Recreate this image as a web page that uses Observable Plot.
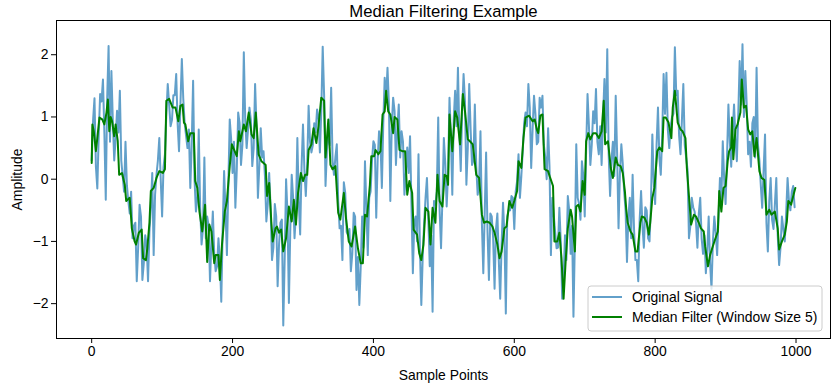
<!DOCTYPE html>
<html><head><meta charset="utf-8">
<script src="https://cdn.jsdelivr.net/npm/d3@7"></script>
<script src="https://cdn.jsdelivr.net/npm/@observablehq/plot@0.6"></script>
<style>
body{margin:0;background:#fff;}
#wrap{width:840px;height:391px;}
</style></head><body><div id="wrap"></div>
<script>
// Original signal, read every 2 samples (0,2,...,998)
const signalStep = 2;
const signalValues = [
 0.30,0.95,1.30,0.20,-0.15,0.70,1.37,1.25,1.60,0.75,-0.33,1.30,2.14,0.60,1.74,0.95,0.30,0.65,1.10,0.75,1.42,0.30,0.05,-0.20,0.60,-0.10,-0.35,-0.55,-0.20,-0.95,-0.75,-0.70,-1.64,-1.10,-0.41,-0.60,-1.62,-1.35,-0.90,-1.05,-1.64,-0.85,-0.46,0.10,-1.22,-0.25,0.07,0.30,0.66,0.00,
 -0.60,0.20,0.40,1.05,1.53,1.20,0.85,0.95,1.35,1.35,1.69,0.90,0.45,1.20,1.93,1.30,0.90,0.70,0.50,0.80,-0.14,0.55,1.58,0.00,-0.52,-0.30,0.80,-0.45,-1.05,-0.80,0.35,-0.95,-0.60,-0.75,-1.64,-1.00,-0.52,-1.20,-1.48,-1.40,-0.95,-1.30,-1.97,-0.80,0.13,-0.50,-1.22,-0.10,0.96,0.65,
 0.10,0.60,-0.46,0.15,1.07,0.90,0.23,0.55,2.04,0.95,0.50,0.80,1.15,0.95,0.21,0.50,1.53,0.85,-0.30,0.20,0.82,0.35,0.45,0.05,-0.68,-0.40,0.10,-0.45,-1.30,-1.10,-0.40,-0.60,-1.72,-1.05,-0.70,-0.65,-2.35,-1.30,0.00,-0.55,-1.99,-0.80,0.07,-0.30,-0.95,-0.55,0.66,-0.35,-0.89,0.20,
 0.88,0.15,-0.27,0.25,1.18,0.60,0.43,0.55,0.90,0.75,1.12,1.00,0.43,1.10,2.13,1.35,-0.11,0.45,0.77,0.55,1.47,0.30,0.07,0.35,0.56,-0.35,-0.79,-0.75,-1.30,-0.05,-0.22,-0.85,-0.90,-0.80,-1.48,-1.20,-0.54,-0.60,-1.78,-1.25,-2.02,-1.40,-0.60,-1.10,0.29,-0.45,-1.22,-0.30,-0.20,0.30,
 0.61,0.55,-0.62,0.30,0.77,0.60,-0.14,0.90,1.63,1.30,1.79,1.20,-0.35,0.85,1.31,1.10,0.23,0.80,1.20,0.35,0.77,0.60,-0.25,0.05,0.51,0.10,0.69,-0.40,-1.51,-0.70,-0.60,-1.00,0.40,-1.10,-2.02,-1.25,-0.70,-0.30,0.02,-0.65,-1.40,-0.90,-2.13,-0.35,-0.41,-0.20,0.99,-0.50,-1.11,-0.30,
 0.66,0.25,-0.44,0.10,1.31,0.70,-0.25,0.95,1.42,0.85,1.79,0.75,0.13,1.10,1.69,1.25,-0.09,0.50,1.53,0.80,0.23,0.30,1.20,0.20,-0.25,-0.10,0.77,-0.70,-1.51,-0.55,0.43,-0.85,-1.62,-0.55,-0.60,-0.95,-1.76,-0.80,-0.55,-1.30,-1.92,-1.05,-0.38,-0.90,-2.16,-0.60,-0.50,-0.50,-0.27,-0.30,
 -0.80,-0.20,-0.03,0.40,-0.30,0.05,0.45,0.90,1.07,0.85,1.53,1.15,0.18,0.80,1.34,1.05,0.56,0.60,1.31,1.15,1.34,0.55,0.35,0.00,0.82,0.20,-1.22,-0.30,-0.57,-0.85,-1.11,-1.10,-0.46,-1.00,-1.92,-1.60,-0.90,-1.30,-0.27,-0.50,-1.20,-0.75,-2.21,-1.00,0.56,-0.30,-0.40,-0.65,0.29,0.05,
 -0.60,0.45,1.37,0.85,0.23,0.55,1.09,0.90,1.45,0.60,0.40,0.85,0.23,1.00,1.61,0.75,2.09,0.40,-0.27,0.30,0.60,0.05,1.34,0.40,-0.79,0.10,0.56,0.25,-0.20,-0.50,-1.33,-0.60,-0.30,-0.95,0.07,-0.80,-1.30,-1.30,-1.64,-0.65,-0.19,-0.75,-1.10,-0.45,-0.50,-0.95,-1.00,-0.40,0.72,-0.05,
 -0.40,0.55,1.15,0.35,0.07,0.70,1.69,1.05,1.71,0.80,0.50,0.85,1.00,1.05,2.12,1.35,1.42,0.70,0.40,0.95,1.53,0.55,0.35,0.15,-0.95,-0.75,-0.30,-0.45,-0.52,-0.70,-1.10,-0.55,-0.30,-0.95,-1.20,-0.90,-1.51,-1.15,-0.60,-1.35,-1.76,-1.00,-0.60,-0.85,-1.22,-0.60,0.02,-0.35,0.61,0.00,
 -0.40,0.35,1.20,0.60,0.20,0.75,1.20,0.65,0.29,1.05,1.90,1.20,2.17,1.00,1.74,1.20,0.40,0.60,0.20,0.90,1.00,0.35,1.79,0.55,0.30,-0.10,-0.46,0.15,0.72,-0.70,-1.16,-0.35,0.02,-0.65,-0.80,-0.40,0.02,-0.90,-1.38,-1.10,-0.60,-0.80,-1.00,-0.55,0.02,-0.35,-0.50,-0.20,-0.11,-0.45
];
// Median filter (window size 5): [sample, value]
const medianPoints = [
 [0,0.26],[1,0.88],[3,0.77],[6,0.45],[8,0.66],[11,0.99],[15,0.96],[18,0.88],[21,1.07],[23,1.28],[25,0.77],[27,1.0],[29,0.93],[32,0.69],[34,0.88],[37,0.61],[39,0.07],[43,0.10],[47,-0.09],[49,-0.35],[54,-0.30],[57,-0.79],[61,-1.0],[63,-1.05],[67,-0.86],[71,-0.81],[73,-1.27],[77,-1.30],[79,-1.11],[82,-0.70],[84,-0.19],[88,-0.14],[92,0.02],[96,0.13],[101,0.10],[104,0.16],[106,1.26],[110,1.29],[115,1.15],
 [119,1.15],[123,0.93],[126,1.18],[129,1.2],[131,0.91],[133,0.88],[137,0.61],[140,0.74],[145,0.74],[147,-0.03],[150,-0.14],[153,-0.52],[157,-0.84],[161,-0.41],[164,-1.33],[167,-0.73],[170,-0.84],[174,-1.35],[176,-1.22],[180,-1.22],[182,-1.62],[185,-1.05],[189,-0.52],[192,-0.35],[196,0.21],[199,0.56],[203,0.45],[206,0.37],[209,0.77],[211,0.61],[216,0.88],[219,0.77],[223,1.07],[227,0.72],[230,0.66],[233,1.07],[237,0.40],[241,0.29],[244,0.26],
 [247,0.23],[249,-0.27],[252,-0.06],[255,-0.68],[257,-1.0],[261,-0.79],[263,-0.76],[266,-0.86],[269,-0.81],[272,-1.16],[276,-0.95],[280,-0.44],[284,-0.68],[287,-0.33],[290,-0.73],[293,-0.22],[297,0.10],[300,-0.03],[303,0.07],[306,0.07],[308,0.47],[312,0.56],[315,0.82],[319,0.58],[322,0.85],[326,1.31],[330,1.26],[332,0.35],[336,0.96],[339,0.23],[342,0.16],[346,0.21],[350,-0.54],[353,-0.65],[358,-0.22],[361,-0.62],[365,-1.0],[369,-1.08],[374,-0.76],
 [378,-1.11],[382,-1.35],[385,-1.35],[388,-0.57],[391,-0.60],[395,-0.09],[397,0.37],[401,0.37],[403,0.47],[407,0.40],[410,0.45],[413,1.04],[416,1.09],[418,1.42],[421,1.09],[424,1.04],[428,0.74],[430,1.0],[434,0.96],[437,0.47],[441,0.45],[445,0.45],[448,-0.25],[451,-0.03],[455,-0.22],[457,-0.81],[462,-0.89],[465,-1.19],[468,-1.30],[471,-1.05],[474,-0.46],[478,-0.52],[481,-1.05],[484,-0.46],[488,-0.70],[491,0.07],[494,-0.35],[498,-0.44],[501,0.07],
 [504,0.05],[506,-0.09],[508,1.04],[512,0.45],[516,1.09],[519,0.99],[523,0.56],[527,1.37],[530,1.09],[534,0.64],[537,0.61],[541,0.56],[543,0.37],[546,0.07],[550,0.02],[554,-0.57],[557,-0.70],[561,-0.68],[565,-0.70],[569,-0.76],[572,-0.86],[576,-1.05],[579,-1.27],[582,-1.16],[586,-0.79],[589,-0.76],[593,-0.35],[597,-0.46],[600,-0.35],[604,-0.19],[606,0.29],[610,0.18],[613,0.66],[616,0.99],[621,1.02],[626,0.93],[629,0.96],
 [632,0.80],[634,0.74],[637,1.02],[640,1.04],[643,0.16],[648,0.13],[651,0.02],[655,-0.11],[657,-1.0],[661,-1.0],[664,-0.86],[667,-1.27],[670,-1.92],[673,-1.30],[676,-0.79],[680,-0.49],[682,-0.60],[686,-1.16],[688,-0.44],[691,-0.41],[694,-0.52],[697,-0.03],[700,-0.25],[702,0.61],[705,0.74],[708,0.64],[712,0.74],[716,0.74],[720,0.66],[724,0.77],[727,1.26],[729,0.56],[733,0.61],[737,0.18],[740,0.02],[744,0.35],[747,0.23],[751,0.21],[754,0.10],
 [757,-0.19],[759,-0.49],[761,-0.70],[765,-0.84],[768,-0.89],[772,-1.16],[775,-1.16],[779,-0.70],[781,-0.60],[785,-0.62],[788,-0.70],[791,-0.89],[793,-0.70],[796,-0.30],[799,-0.14],[803,0.45],[806,0.51],[810,0.45],[812,0.99],[815,0.99],[819,0.91],[823,0.66],[825,1.15],[828,1.42],[832,0.91],[836,0.80],[839,0.77],[843,0.66],[845,0.18],[848,-0.27],[851,-0.73],[855,-0.57],[858,-0.60],[862,-0.70],[865,-0.79],[869,-0.84],[871,-1.08],[875,-1.40],[878,-1.22],[881,-1.11],
 [885,-0.97],[889,-0.84],[891,-0.19],[894,-0.52],[897,-0.14],[900,-0.11],[903,0.29],[905,0.45],[908,0.51],[909,0.99],[911,0.32],[914,0.80],[917,0.88],[921,1.07],[923,1.60],[926,1.15],[929,1.18],[932,0.80],[935,0.72],[938,0.77],[941,0.37],[944,0.66],[948,0.13],[951,0.02],[955,-0.01],[958,-0.57],[962,-0.49],[965,-0.57],[970,-0.52],[974,-0.79],[976,-1.13],[980,-1.0],[984,-0.89],[987,-0.68],[989,-0.35],[993,-0.41],[996,-0.27],[999,-0.14]
];
const xTicks = [0, 200, 400, 600, 800, 1000];
const yTicks = [-2, -1, 0, 1, 2];
const titleText = "Median Filtering Example";
const xLabel = "Sample Points";
const yLabel = "Amplitude";
const seriesNames = ["Original Signal", "Median Filter (Window Size 5)"];
const seriesColors = ["#1f77b4", "green"];

const signal = signalValues.map((v, i) => ({x: i * signalStep, y: v}));
const median = medianPoints.map(([x, y]) => ({x, y}));
const font = "'Liberation Sans', Arial, sans-serif";
const fmt = d => (d < 0 ? "\u2212" + Math.abs(d) : String(d));

const chart = Plot.plot({
  width: 840, height: 391,
  marginTop: 20, marginBottom: 53, marginLeft: 56, marginRight: 10,
  style: {fontFamily: font, fontSize: "13.9px", color: "black", background: "white"},
  x: {domain: [-49.95, 1048.95]},
  y: {domain: [-2.56, 2.55]},
  marks: [
    Plot.line(signal, {x: "x", y: "y", stroke: seriesColors[0], strokeOpacity: 0.7, strokeWidth: 2, clip: true}),
    Plot.line(median, {x: "x", y: "y", stroke: seriesColors[1], strokeWidth: 2, clip: true}),
    Plot.frame({stroke: "black", strokeWidth: 1}),
    Plot.axisX({ticks: xTicks, tickSize: 5, tickPadding: 3, label: null, tickFormat: fmt, stroke: "black"}),
    Plot.axisY({ticks: yTicks, tickSize: 5, tickPadding: 3, label: null, tickFormat: fmt, stroke: "black"}),
    Plot.text([titleText], {frameAnchor: "top", lineAnchor: "middle", dy: -8.5, fontSize: 16.7, fill: "black", text: d => d}),
    Plot.text([xLabel], {frameAnchor: "bottom", lineAnchor: "middle", dy: 37, fontSize: 13.9, fill: "black", text: d => d}),
    Plot.text([yLabel], {frameAnchor: "left", textAnchor: "middle", lineAnchor: "middle", dx: -39, rotate: -90, fontSize: 13.9, fill: "black", text: d => d})
  ]
});
document.getElementById("wrap").appendChild(chart);

// Legend
const svg = d3.select(chart);
const lg = svg.append("g").attr("font-family", font).attr("font-size", 13.9).attr("text-anchor", "start");
lg.append("rect").attr("x", 588).attr("y", 286).attr("width", 234).attr("height", 45)
  .attr("rx", 3).attr("fill", "white").attr("fill-opacity", 0.8).attr("stroke", "#cccccc");
seriesNames.forEach((name, i) => {
  const y = 297 + i * 20;
  lg.append("line").attr("x1", 592).attr("x2", 622).attr("y1", y).attr("y2", y)
    .attr("stroke", seriesColors[i]).attr("stroke-width", 2).attr("stroke-opacity", i === 0 ? 0.7 : 1);
  lg.append("text").attr("x", 632).attr("y", y).attr("dy", "0.35em").attr("fill", "black")
    .attr("text-anchor", "start").text(name);
});
</script></body></html>
